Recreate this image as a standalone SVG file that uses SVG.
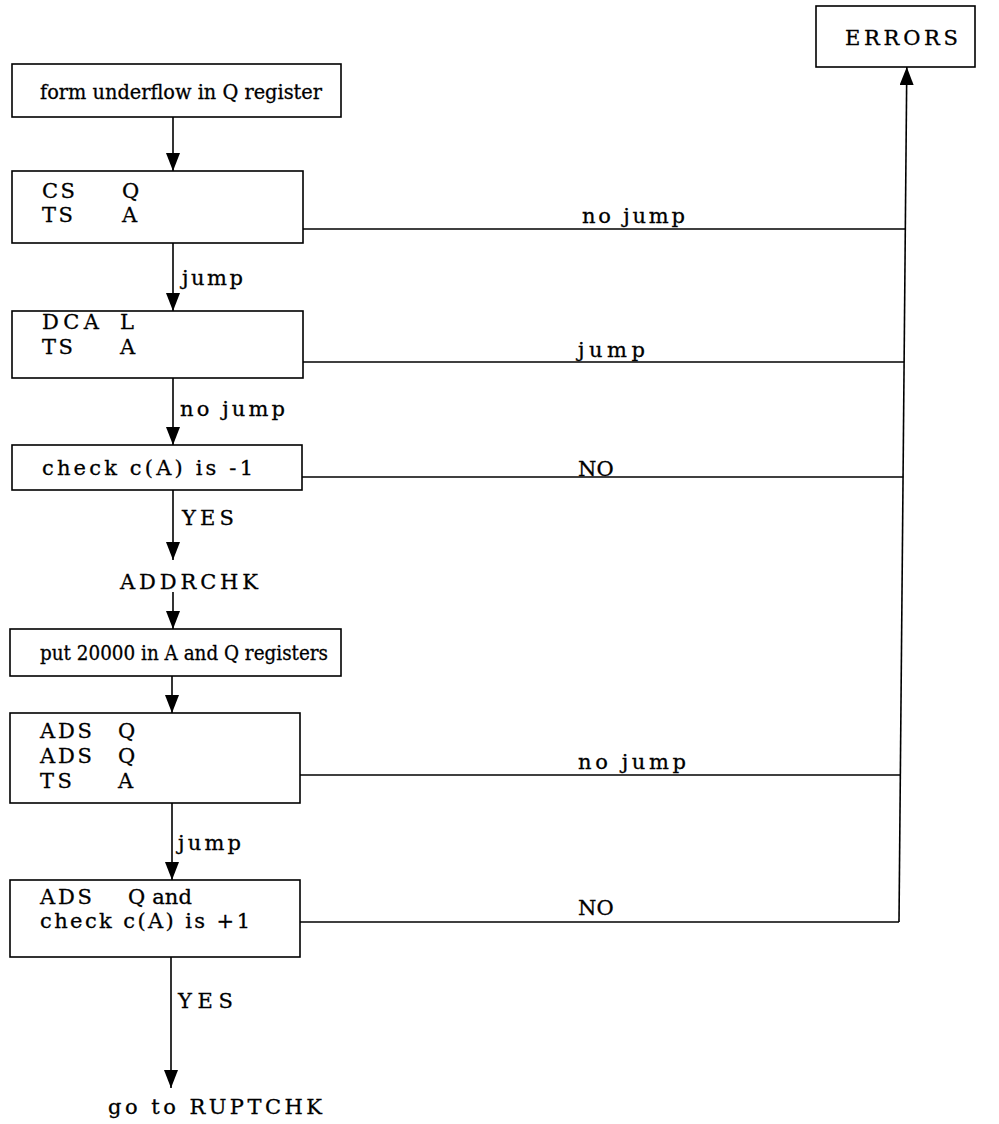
<svg xmlns="http://www.w3.org/2000/svg" width="999" height="1124" viewBox="0 0 999 1124">
<defs>
<marker id="ah" markerUnits="userSpaceOnUse" markerWidth="18" markerHeight="14" viewBox="0 0 18 14" refX="18" refY="7" orient="auto">
<path d="M0,0 L18,7 L0,14 Z" fill="#000"/>
</marker>
</defs>
<style>
.box{fill:#fff;stroke:#000;stroke-width:1.6}
.ln{fill:none;stroke:#000;stroke-width:1.6}
.ar{fill:none;stroke:#000;stroke-width:1.6;marker-end:url(#ah)}
text{font-family:"DejaVu Serif",serif;font-size:21px;fill:#000;stroke:#000;stroke-width:0.3}
.lg{font-size:20px}
</style>
<rect width="999" height="1124" fill="#fff"/>
<g id="connectors">
<line class="ar" x1="173" y1="117" x2="173" y2="171"/>
<line class="ar" x1="173" y1="243" x2="173" y2="311"/>
<text x="182" y="285" textLength="61" lengthAdjust="spacing">jump</text>
<line class="ar" x1="173" y1="378" x2="173" y2="445"/>
<text x="180" y="416" textLength="105" lengthAdjust="spacing">no jump</text>
<line class="ar" x1="173" y1="490" x2="173" y2="560"/>
<text x="182" y="525" textLength="52" lengthAdjust="spacing">YES</text>
<line class="ar" x1="173" y1="592" x2="173" y2="629"/>
<line class="ar" x1="172" y1="676" x2="172" y2="713"/>
<line class="ar" x1="172" y1="803" x2="172" y2="880"/>
<text x="178" y="850" textLength="63" lengthAdjust="spacing">jump</text>
<line class="ar" x1="171" y1="957" x2="171" y2="1088"/>
<text x="178" y="1008" textLength="55" lengthAdjust="spacing">YES</text>
<line class="ln" x1="303" y1="229" x2="905.5" y2="229"/>
<text x="582" y="223" textLength="103" lengthAdjust="spacing">no jump</text>
<line class="ln" x1="303" y1="362" x2="904.2" y2="362"/>
<text x="578" y="357" textLength="67" lengthAdjust="spacing">jump</text>
<line class="ln" x1="302" y1="477" x2="903.2" y2="477"/>
<text x="578" y="476">NO</text>
<line class="ln" x1="300" y1="775" x2="900.4" y2="775"/>
<text x="578" y="769" textLength="108" lengthAdjust="spacing">no jump</text>
<line class="ln" x1="300" y1="922" x2="899" y2="922"/>
<text x="578" y="915">NO</text>
<line class="ar" x1="899" y1="922" x2="906.8" y2="67"/>
</g>
<g id="n_errors"><rect class="box" x="816" y="6" width="159" height="61"/><text x="845" y="45" textLength="113" lengthAdjust="spacing">ERRORS</text></g>
<g id="n_form"><rect class="box" x="12" y="64" width="329" height="53"/><text class="lg" x="40" y="99" textLength="282" lengthAdjust="spacingAndGlyphs">form underflow in Q register</text></g>
<g id="n_cs"><rect class="box" x="12" y="171" width="291" height="72"/><text x="42" y="198" textLength="33" lengthAdjust="spacing">CS</text><text x="122" y="198">Q</text><text x="42" y="222" textLength="31" lengthAdjust="spacing">TS</text><text x="122" y="222">A</text></g>
<g id="n_dca"><rect class="box" x="12" y="311" width="291" height="67"/><text x="42" y="329" textLength="57" lengthAdjust="spacing">DCA</text><text x="120" y="329">L</text><text x="42" y="354" textLength="31" lengthAdjust="spacing">TS</text><text x="120" y="354">A</text></g>
<g id="n_check1"><rect class="box" x="12" y="445" width="290" height="45"/><text x="42" y="475" textLength="211" lengthAdjust="spacing">check c(A) is -1</text></g>
<g id="n_addrchk"><text x="120" y="589" textLength="138" lengthAdjust="spacing">ADDRCHK</text></g>
<g id="n_put"><rect class="box" x="10" y="629" width="331" height="47"/><text class="lg" x="40" y="660" textLength="288" lengthAdjust="spacingAndGlyphs">put 20000 in A and Q registers</text></g>
<g id="n_ads"><rect class="box" x="10" y="713" width="290" height="90"/><text x="40" y="738" textLength="52" lengthAdjust="spacing">ADS</text><text x="118" y="738">Q</text><text x="40" y="763" textLength="52" lengthAdjust="spacing">ADS</text><text x="118" y="763">Q</text><text x="40" y="788" textLength="32" lengthAdjust="spacing">TS</text><text x="118" y="788">A</text></g>
<g id="n_check2"><rect class="box" x="10" y="880" width="290" height="77"/><text x="40" y="904" textLength="52" lengthAdjust="spacing">ADS</text><text x="128" y="904" textLength="64" lengthAdjust="spacing">Q and</text><text x="40" y="928" textLength="210" lengthAdjust="spacing">check c(A) is +1</text></g>
<g id="n_rupt"><text x="108" y="1114" textLength="214" lengthAdjust="spacing">go to RUPTCHK</text></g>
</svg>
